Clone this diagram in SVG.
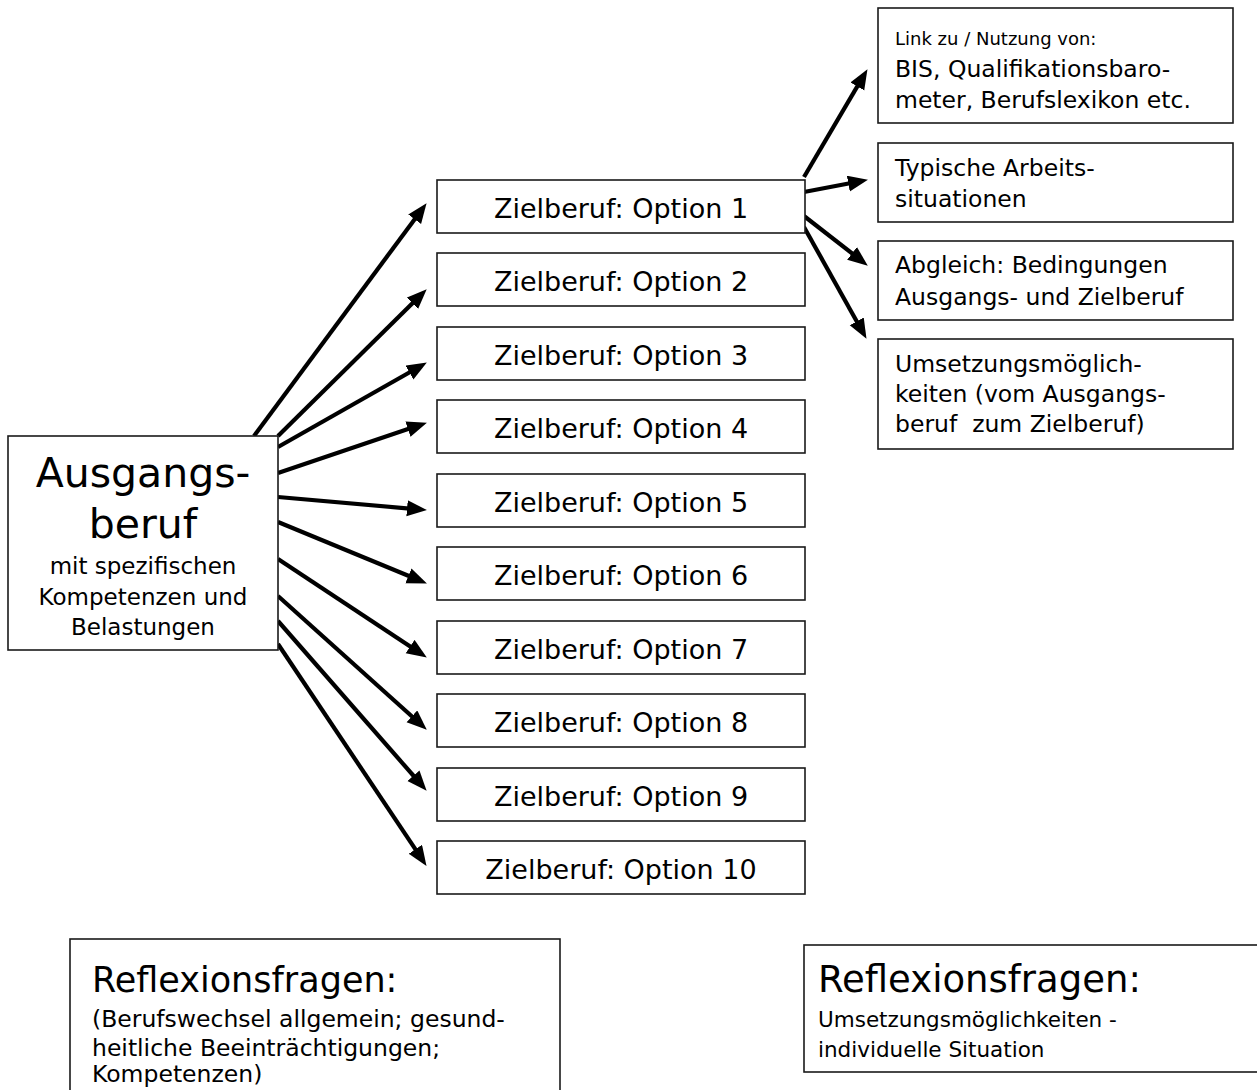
<svg xmlns="http://www.w3.org/2000/svg" width="1257" height="1090" viewBox="0 0 1257 1090">
<style>
.box{fill:#fff;stroke:#1a1a1a;stroke-width:1.6}
text{font-family:"DejaVu Sans",sans-serif;fill:#000}
.z{font-size:27px;text-anchor:middle}
.r{font-size:23.5px}
.c line{stroke:#000;stroke-width:4.2;marker-end:url(#ah)}
</style>
<defs>
<marker id="ah" markerUnits="userSpaceOnUse" markerWidth="22" markerHeight="18" refX="11" refY="8" orient="auto">
<path d="M0,0 L20,8 L0,16 z" fill="#000"/>
</marker>
</defs>
<rect width="1257" height="1090" fill="#fff"/>

<g class="c" id="connectors">
<line x1="254" y1="436" x2="421.2" y2="210.4"/>
<line x1="278" y1="436" x2="420.3" y2="295.6"/>
<line x1="278" y1="447" x2="419.0" y2="367.0"/>
<line x1="278" y1="473" x2="418.4" y2="425.6"/>
<line x1="278" y1="497" x2="418.0" y2="509.3"/>
<line x1="278" y1="522" x2="418.6" y2="580.0"/>
<line x1="278" y1="559" x2="419.3" y2="652.6"/>
<line x1="278" y1="596" x2="420.1" y2="723.7"/>
<line x1="278" y1="621" x2="420.7" y2="784.0"/>
<line x1="278" y1="644" x2="421.5" y2="858.4"/>
<line x1="804" y1="177" x2="862.9" y2="76.9"/>
<line x1="804" y1="192" x2="859.1" y2="181.5"/>
<line x1="804" y1="216" x2="860.7" y2="260.1"/>
<line x1="804" y1="227" x2="862.1" y2="331.0"/>
</g>

<g id="ausgangsberuf">
<rect class="box" x="8" y="436" width="270" height="214"/>
<text x="143" y="487" font-size="41" text-anchor="middle">Ausgangs-</text>
<text x="143" y="538" font-size="41" text-anchor="middle">beruf</text>
<text x="143" y="574" font-size="23" text-anchor="middle">mit spezifischen</text>
<text x="143" y="605" font-size="23" text-anchor="middle">Kompetenzen und</text>
<text x="143" y="635" font-size="23" text-anchor="middle">Belastungen</text>
</g>

<g id="option1"><rect class="box" x="437" y="180" width="368" height="53"/><text class="z" x="621" y="218">Zielberuf: Option 1</text></g>
<g id="option2"><rect class="box" x="437" y="253" width="368" height="53"/><text class="z" x="621" y="291">Zielberuf: Option 2</text></g>
<g id="option3"><rect class="box" x="437" y="327" width="368" height="53"/><text class="z" x="621" y="365">Zielberuf: Option 3</text></g>
<g id="option4"><rect class="box" x="437" y="400" width="368" height="53"/><text class="z" x="621" y="438">Zielberuf: Option 4</text></g>
<g id="option5"><rect class="box" x="437" y="474" width="368" height="53"/><text class="z" x="621" y="512">Zielberuf: Option 5</text></g>
<g id="option6"><rect class="box" x="437" y="547" width="368" height="53"/><text class="z" x="621" y="585">Zielberuf: Option 6</text></g>
<g id="option7"><rect class="box" x="437" y="621" width="368" height="53"/><text class="z" x="621" y="659">Zielberuf: Option 7</text></g>
<g id="option8"><rect class="box" x="437" y="694" width="368" height="53"/><text class="z" x="621" y="732">Zielberuf: Option 8</text></g>
<g id="option9"><rect class="box" x="437" y="768" width="368" height="53"/><text class="z" x="621" y="806">Zielberuf: Option 9</text></g>
<g id="option10"><rect class="box" x="437" y="841" width="368" height="53"/><text class="z" x="621" y="879">Zielberuf: Option 10</text></g>

<g id="link">
<rect class="box" x="878" y="8" width="355" height="115"/>
<text x="895" y="45" font-size="18">Link zu / Nutzung von:</text>
<text class="r" x="895" y="77">BIS, Qualifikationsbaro-</text>
<text class="r" x="895" y="108">meter, Berufslexikon etc.</text>
</g>
<g id="arbeitssituationen">
<rect class="box" x="878" y="143" width="355" height="79"/>
<text class="r" x="895" y="176">Typische Arbeits-</text>
<text class="r" x="895" y="207">situationen</text>
</g>
<g id="abgleich">
<rect class="box" x="878" y="241" width="355" height="79"/>
<text class="r" x="895" y="273">Abgleich: Bedingungen</text>
<text class="r" x="895" y="305">Ausgangs- und Zielberuf</text>
</g>
<g id="umsetzung">
<rect class="box" x="878" y="339" width="355" height="110"/>
<text class="r" x="895" y="372">Umsetzungsmöglich-</text>
<text class="r" x="895" y="402">keiten (vom Ausgangs-</text>
<text class="r" x="895" y="432" xml:space="preserve">beruf  zum Zielberuf)</text>
</g>

<g id="reflexion1">
<rect class="box" x="70" y="939" width="490" height="160"/>
<text x="92" y="992" font-size="35">Reflexionsfragen:</text>
<text x="92" y="1027" font-size="23.5">(Berufswechsel allgemein; gesund-</text>
<text x="92" y="1056" font-size="23.5">heitliche Beeinträchtigungen;</text>
<text x="92" y="1082" font-size="23.5">Kompetenzen)</text>
</g>
<g id="reflexion2">
<rect class="box" x="804" y="945" width="470" height="127"/>
<text x="818" y="992" font-size="37">Reflexionsfragen:</text>
<text x="818" y="1027" font-size="21.5">Umsetzungsmöglichkeiten -</text>
<text x="818" y="1057" font-size="21.5">individuelle Situation</text>
</g>
</svg>
